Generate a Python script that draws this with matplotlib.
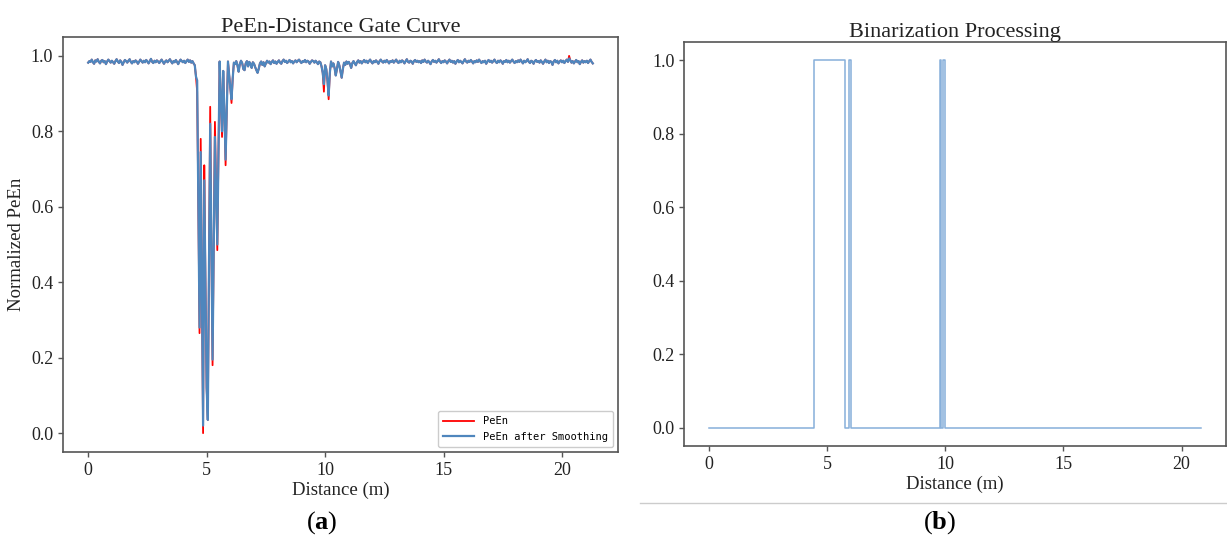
import numpy as np
import matplotlib
matplotlib.use("Agg")
import matplotlib.pyplot as plt
from matplotlib.lines import Line2D

plt.rcParams['font.family'] = ['Liberation Serif', 'DejaVu Serif']
plt.rcParams['mathtext.fontset'] = 'custom'
plt.rcParams['mathtext.bf'] = 'Liberation Serif:bold'
plt.rcParams['mathtext.rm'] = 'Liberation Serif'

# ---- data ----
gate_step = 0.05  # m between distance gates

peen_smooth = [
    # 0 m
    0.982, 0.986, 0.984, 0.990, 0.983, 0.979, 0.988, 0.985, 0.991, 0.984,
    0.980, 0.987, 0.989, 0.983, 0.986, 0.978, 0.985, 0.990, 0.986, 0.982,
    # 1 m
    0.987, 0.983, 0.979, 0.986, 0.991, 0.985, 0.981, 0.988, 0.984, 0.976,
    0.983, 0.989, 0.986, 0.982, 0.987, 0.991, 0.984, 0.980, 0.986, 0.983,
    # 2 m
    0.988, 0.985, 0.979, 0.984, 0.990, 0.986, 0.982, 0.987, 0.983, 0.989,
    0.985, 0.980, 0.986, 0.992, 0.984, 0.981, 0.987, 0.983, 0.988, 0.985,
    # 3 m
    0.981, 0.986, 0.990, 0.984, 0.979, 0.985, 0.988, 0.983, 0.987, 0.991,
    0.985, 0.980, 0.986, 0.983, 0.989, 0.984, 0.978, 0.985, 0.990, 0.986,
    # 4 m
    0.983, 0.987, 0.981, 0.986, 0.990, 0.984, 0.988, 0.982, 0.986, 0.980,
    0.975, 0.945, 0.935, 0.600, 0.280, 0.745, 0.380, 0.020, 0.670, 0.400,
    # 5 m
    0.120, 0.035, 0.450, 0.820, 0.500, 0.195, 0.500, 0.785, 0.640, 0.500,
    0.750, 0.985, 0.880, 0.800, 0.960, 0.850, 0.725, 0.860, 0.985, 0.950,
    # 6 m
    0.915, 0.885, 0.940, 0.982, 0.978, 0.986, 0.975, 0.958, 0.978, 0.987,
    0.981, 0.965, 0.962, 0.980, 0.986, 0.972, 0.984, 0.978, 0.968, 0.983,
    # 7 m
    0.979, 0.970, 0.962, 0.955, 0.966, 0.980, 0.985, 0.976, 0.983, 0.972,
    0.980, 0.987, 0.982, 0.985, 0.978, 0.984, 0.988, 0.981, 0.985, 0.979,
    # 8 m
    0.984, 0.988, 0.982, 0.979, 0.986, 0.990, 0.984, 0.987, 0.981, 0.985,
    0.989, 0.983, 0.986, 0.980, 0.985, 0.988, 0.983, 0.987, 0.990, 0.985,
    # 9 m
    0.981, 0.986, 0.984, 0.989, 0.983, 0.987, 0.985, 0.979, 0.984, 0.988,
    0.986, 0.982, 0.987, 0.983, 0.978, 0.985, 0.983, 0.972, 0.955, 0.925,
    # 10 m
    0.975, 0.965, 0.935, 0.895, 0.955, 0.985, 0.972, 0.980, 0.968, 0.948,
    0.965, 0.984, 0.975, 0.958, 0.942, 0.965, 0.982, 0.976, 0.985, 0.979,
    # 11 m
    0.984, 0.978, 0.968, 0.981, 0.986, 0.980, 0.975, 0.984, 0.988, 0.982,
    0.986, 0.980, 0.985, 0.989, 0.983, 0.987, 0.981, 0.986, 0.990, 0.984,
    # 12 m
    0.980, 0.986, 0.983, 0.988, 0.984, 0.979, 0.986, 0.990, 0.985, 0.982,
    0.987, 0.983, 0.989, 0.985, 0.980, 0.986, 0.984, 0.988, 0.982, 0.986,
    # 13 m
    0.990, 0.984, 0.981, 0.987, 0.983, 0.988, 0.985, 0.980, 0.986, 0.991,
    0.984, 0.982, 0.987, 0.985, 0.979, 0.986, 0.989, 0.984, 0.987, 0.983,
    # 14 m
    0.986, 0.981, 0.988, 0.984, 0.990, 0.985, 0.982, 0.987, 0.983, 0.978,
    0.985, 0.989, 0.984, 0.987, 0.982, 0.986, 0.991, 0.985, 0.981, 0.986,
    # 15 m
    0.983, 0.988, 0.985, 0.980, 0.986, 0.990, 0.984, 0.987, 0.982, 0.986,
    0.979, 0.985, 0.989, 0.983, 0.987, 0.984, 0.980, 0.986, 0.991, 0.985,
    # 16 m
    0.982, 0.987, 0.984, 0.989, 0.985, 0.980, 0.986, 0.983, 0.988, 0.984,
    0.990, 0.985, 0.981, 0.986, 0.983, 0.987, 0.979, 0.985, 0.989, 0.984,
    # 17 m
    0.987, 0.982, 0.986, 0.990, 0.984, 0.981, 0.987, 0.983, 0.988, 0.985,
    0.979, 0.986, 0.984, 0.989, 0.983, 0.987, 0.982, 0.986, 0.990, 0.985,
    # 18 m
    0.981, 0.986, 0.983, 0.988, 0.984, 0.990, 0.985, 0.980, 0.987, 0.983,
    0.986, 0.991, 0.984, 0.981, 0.987, 0.985, 0.979, 0.986, 0.989, 0.984,
    # 19 m
    0.986, 0.982, 0.988, 0.984, 0.979, 0.985, 0.990, 0.983, 0.987, 0.981,
    0.986, 0.984, 0.976, 0.985, 0.989, 0.983, 0.987, 0.980, 0.985, 0.988,
    # 20 m
    0.983, 0.987, 0.981, 0.986, 0.990, 0.984, 0.993, 0.988, 0.982, 0.986,
    0.980, 0.985, 0.989, 0.983, 0.986, 0.978, 0.984, 0.988, 0.982, 0.986,
    # 21 m
    0.983, 0.987, 0.981, 0.986, 0.990, 0.984, 0.980,
]

# raw PeEn differs from the smoothed curve only at the sharp extremes
peen_raw_peaks = {
    4.60: 0.905, 4.70: 0.265, 4.75: 0.780, 4.85: 0.000, 4.90: 0.710,
    5.15: 0.865, 5.25: 0.180, 5.35: 0.825, 5.45: 0.485, 5.65: 0.785,
    5.80: 0.710, 6.05: 0.875, 9.95: 0.905, 10.15: 0.885, 20.30: 1.000,
}

# binarized result: distances where the level changes and the levels
bin_dist = [0.0, 4.44, 4.44, 5.75, 5.75, 5.92, 5.92, 6.00, 6.00,
            9.77, 9.77, 9.83, 9.83, 9.93, 9.93, 9.99, 9.99, 20.84]
bin_level = [0, 0, 1, 1, 0, 0, 1, 1, 0,
             0, 1, 1, 0, 0, 1, 1, 0, 0]

# ---- build series ----
dist = np.arange(len(peen_smooth)) * gate_step
peen_raw = np.array(peen_smooth, dtype=float)
for d, v in peen_raw_peaks.items():
    peen_raw[int(round(d / gate_step))] = v

fig = plt.figure(figsize=(12.27, 5.39), dpi=100)
ax1 = fig.add_axes([0.0513, 0.1614, 0.4524, 0.7700])
ax2 = fig.add_axes([0.5575, 0.1725, 0.4417, 0.7496])

spine_col = '#555555'
for ax in (ax1, ax2):
    for s in ax.spines.values():
        s.set_color(spine_col)
        s.set_linewidth(1.2)
    ax.tick_params(colors=spine_col, labelcolor='#222222', labelsize=13, width=1.0)

ax1.plot(dist, peen_raw, color='red', lw=1.3, label='PeEn')
ax1.plot(dist, peen_smooth, color='#4f86bd', lw=1.6, label='PeEn after Smoothing')
ax1.set_title('PeEn-Distance Gate Curve', fontsize=16, color='#222222', pad=3)
ax1.set_xlabel('Distance (m)', fontsize=13.5, color='#222222', labelpad=2)
ax1.set_ylabel('Normalized PeEn', fontsize=13.5, color='#222222')
ax1.set_xticks([0, 5, 10, 15, 20])
ax1.set_yticks([0.0, 0.2, 0.4, 0.6, 0.8, 1.0])
leg = ax1.legend(loc='lower right', prop={'family': 'DejaVu Sans Mono', 'size': 7.5},
                 framealpha=1, borderpad=0.5, handlelength=3)

ax2.plot(bin_dist, bin_level, color='#7aa6d6', lw=1.1, alpha=0.9)
ax2.set_title('Binarization Processing', fontsize=16, color='#222222', pad=3)
ax2.set_xlabel('Distance (m)', fontsize=13.5, color='#222222', labelpad=2)
ax2.set_xticks([0, 5, 10, 15, 20])
ax2.set_yticks([0.0, 0.2, 0.4, 0.6, 0.8, 1.0])

fig.text(0.2624, 0.030, r'($\mathbf{a}$)', ha='center', va='center', fontsize=19)
fig.text(0.766, 0.030, r'($\mathbf{b}$)', ha='center', va='center', fontsize=19)
fig.add_artist(Line2D([0.522, 1.0], [0.067, 0.067], color='#cccccc', lw=1.0))

fig.savefig('out.png', dpi=100)
